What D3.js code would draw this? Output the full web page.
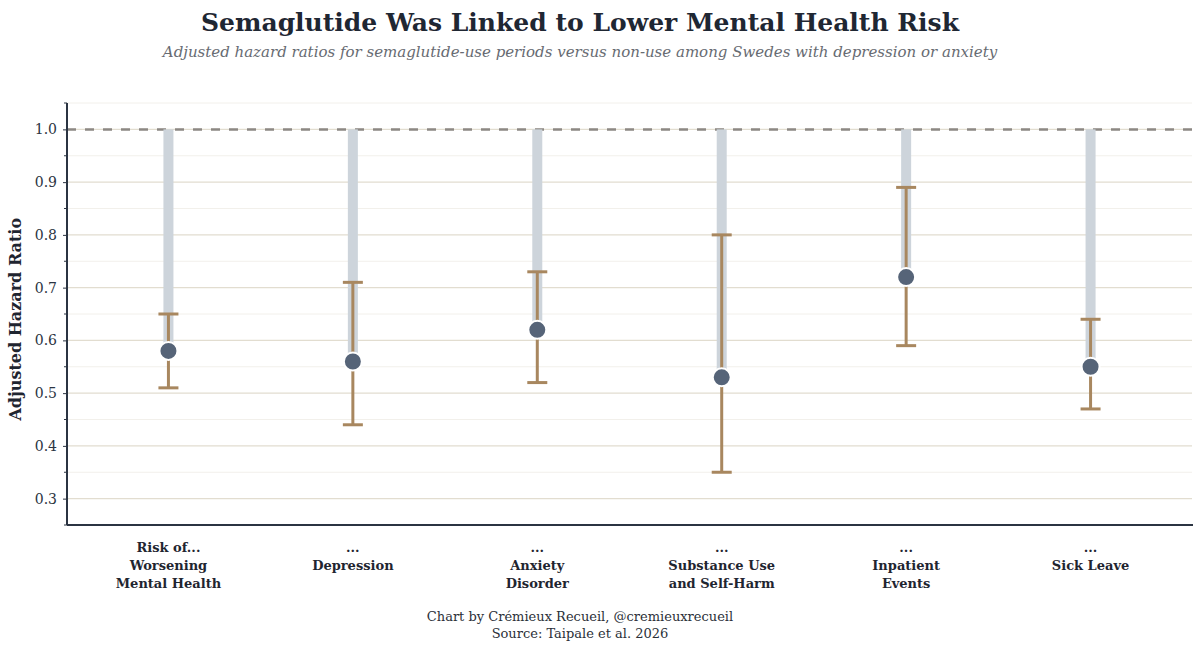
<!DOCTYPE html>
<html>
<head>
<meta charset="utf-8">
<script src="https://cdn.jsdelivr.net/npm/d3@7"></script>
<style>
  body { margin: 0; background: #fff; }
  svg text { font-family: "Palatino Linotype", Palatino, "Book Antiqua", "URW Palladio L", P052, "DejaVu Serif", serif; }
</style>
</head>
<body>
<script>
// outcomes (x axis labels, split into lines)
const categories = [
  ['Risk of...', 'Worsening', 'Mental Health'],
  ['...', 'Depression'],
  ['...', 'Anxiety', 'Disorder'],
  ['...', 'Substance Use', 'and Self-Harm'],
  ['...', 'Inpatient', 'Events'],
  ['...', 'Sick Leave']
];
const hazardRatios = [0.58, 0.56, 0.62, 0.53, 0.72, 0.55];
const ciLower = [0.51, 0.44, 0.52, 0.35, 0.59, 0.47];
const ciUpper = [0.65, 0.71, 0.73, 0.80, 0.89, 0.64];
const yTicks = [0.3, 0.4, 0.5, 0.6, 0.7, 0.8, 0.9, 1.0];
const yMinor = [0.25, 0.35, 0.45, 0.55, 0.65, 0.75, 0.85, 0.95, 1.05];

const width = 1200, height = 651;
const margin = {top: 103, right: 8, bottom: 126, left: 67};
const innerW = width - margin.left - margin.right;
const innerH = height - margin.top - margin.bottom;

const svg = d3.select('body').append('svg')
  .attr('width', width)
  .attr('height', height);

const g = svg.append('g')
  .attr('transform', `translate(${margin.left},${margin.top})`);

const x = d3.scalePoint()
  .domain(d3.range(categories.length))
  .range([0, innerW])
  .padding(0.55);

const y = d3.scaleLinear()
  .domain([0.25, 1.05])
  .range([innerH, 0]);

// grid
g.append('g').selectAll('line')
  .data(yMinor)
  .join('line')
  .attr('x1', 0).attr('x2', innerW)
  .attr('y1', d => y(d)).attr('y2', d => y(d))
  .attr('stroke', '#f2f0eb').attr('stroke-width', 1);

g.append('g').selectAll('line')
  .data(yTicks)
  .join('line')
  .attr('x1', 0).attr('x2', innerW)
  .attr('y1', d => y(d)).attr('y2', d => y(d))
  .attr('stroke', '#e2ddd0').attr('stroke-width', 1.2);

// reference line at 1
g.append('line')
  .attr('x1', 0).attr('x2', innerW)
  .attr('y1', y(1)).attr('y2', y(1))
  .attr('stroke', '#8c8884')
  .attr('stroke-width', 2.5)
  .attr('stroke-dasharray', '9,9');

// bars from 1 down to the estimate
g.append('g').selectAll('rect')
  .data(hazardRatios)
  .join('rect')
  .attr('x', (d, i) => x(i) - 5)
  .attr('width', 10)
  .attr('y', y(1))
  .attr('height', d => y(d) - y(1))
  .attr('fill', '#cdd4db');

// error bars
const eb = g.append('g')
  .attr('stroke', '#a8875f')
  .attr('stroke-width', 3);

eb.selectAll('.ci')
  .data(hazardRatios)
  .join('line')
  .attr('class', 'ci')
  .attr('x1', (d, i) => x(i)).attr('x2', (d, i) => x(i))
  .attr('y1', (d, i) => y(ciLower[i]))
  .attr('y2', (d, i) => y(ciUpper[i]));

[ciLower, ciUpper].forEach(arr => {
  eb.append('g').selectAll('line')
    .data(arr)
    .join('line')
    .attr('x1', (d, i) => x(i) - 10).attr('x2', (d, i) => x(i) + 10)
    .attr('y1', d => y(d)).attr('y2', d => y(d));
});

// points
g.append('g').selectAll('circle')
  .data(hazardRatios)
  .join('circle')
  .attr('cx', (d, i) => x(i))
  .attr('cy', d => y(d))
  .attr('r', 9)
  .attr('fill', '#566478')
  .attr('stroke', '#fff')
  .attr('stroke-width', 2);

// y axis
const yAxis = g.append('g')
  .call(d3.axisLeft(y).tickValues(yTicks).tickFormat(d3.format('.1f')).tickSize(4).tickPadding(6));
yAxis.select('.domain').remove();
yAxis.selectAll('.tick line').attr('stroke', '#2b3442');
yAxis.selectAll('.tick text')
  .attr('fill', '#2b3442')
  .style('font-size', '14px');

g.append('g').selectAll('line')
  .data(yMinor)
  .join('line')
  .attr('x1', -3).attr('x2', 0)
  .attr('y1', d => y(d)).attr('y2', d => y(d))
  .attr('stroke', '#2b3442');

g.append('line')
  .attr('x1', 0).attr('x2', 0)
  .attr('y1', 0).attr('y2', innerH)
  .attr('stroke', '#2b3442').attr('stroke-width', 2);

g.append('line')
  .attr('x1', 0).attr('x2', innerW + 1)
  .attr('y1', innerH).attr('y2', innerH)
  .attr('stroke', '#2b3442').attr('stroke-width', 2);

// x labels
const xl = g.append('g').selectAll('text')
  .data(categories)
  .join('text')
  .attr('x', (d, i) => x(i))
  .attr('y', innerH + 27)
  .attr('text-anchor', 'middle')
  .attr('fill', '#1f2530')
  .style('font-size', '13px')
  .style('font-weight', 'bold');

xl.selectAll('tspan')
  .data(d => d)
  .join('tspan')
  .attr('x', function () { return this.parentNode.getAttribute('x'); })
  .attr('dy', (d, i) => i === 0 ? 0 : 18)
  .text(d => d);

// y label
svg.append('text')
  .attr('transform', `translate(21,${margin.top + y(0.64)}) rotate(-90)`)
  .attr('text-anchor', 'middle')
  .attr('fill', '#1f2530')
  .style('font-size', '16px')
  .style('font-weight', 'bold')
  .text('Adjusted Hazard Ratio');

// titles
svg.append('text')
  .attr('x', 580).attr('y', 31)
  .attr('text-anchor', 'middle')
  .attr('fill', '#1f2733')
  .style('font-size', '25px')
  .style('font-weight', 'bold')
  .text('Semaglutide Was Linked to Lower Mental Health Risk');

svg.append('text')
  .attr('x', 580).attr('y', 57)
  .attr('text-anchor', 'middle')
  .attr('fill', '#676b72')
  .style('font-size', '15px')
  .style('font-style', 'italic')
  .text('Adjusted hazard ratios for semaglutide-use periods versus non-use among Swedes with depression or anxiety');

// footer
svg.append('text')
  .attr('x', 580).attr('y', 621)
  .attr('text-anchor', 'middle')
  .attr('fill', '#2b3038')
  .style('font-size', '13px')
  .selectAll('tspan')
  .data(['Chart by Crémieux Recueil, @cremieuxrecueil', 'Source: Taipale et al. 2026'])
  .join('tspan')
  .attr('x', 580)
  .attr('dy', (d, i) => i === 0 ? 0 : 17)
  .text(d => d);
</script>
</body>
</html>
